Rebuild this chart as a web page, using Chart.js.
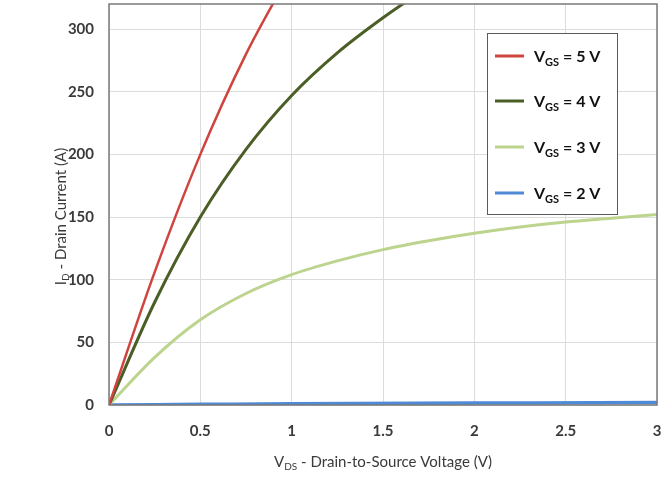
<!DOCTYPE html>
<html>
<head>
<meta charset="utf-8">
<script src="https://cdn.jsdelivr.net/npm/chart.js@4/dist/chart.umd.min.js"></script>
<style>
  html, body { margin: 0; padding: 0; background: #ffffff; }
  #wrap { position: relative; width: 671px; height: 486px; }
</style>
</head>
<body>
<div id="wrap"><canvas id="id-vds-chart" width="671" height="486"></canvas></div>
<script>
// Output characteristics
const legendLabels = ['5 V', '4 V', '3 V', '2 V'];
const seriesColors = ['#d0443f', '#4a5e26', '#bcd48e', '#4f8ad6'];

const vgs5Vds = [0, 0.25, 0.5, 0.75, 1];
const vgs5Id  = [0, 106, 200, 280, 347];

const vgs4Vds = [0, 0.25, 0.5, 0.75, 1, 1.25, 1.5, 1.75];
const vgs4Id  = [0, 82, 150, 204, 247, 281, 309, 334];

const vgs3Vds = [0, 0.25, 0.5, 0.75, 1, 1.25, 1.5, 1.75, 2, 2.25, 2.5, 2.75, 3];
const vgs3Id  = [0, 38, 68, 89, 104, 115, 124, 131, 137, 142, 146, 149, 152];

const vgs2Vds = [0, 0.5, 1, 2, 3];
const vgs2Id  = [0, 0.5, 1, 1.5, 2];

const xTicks = [0, 0.5, 1, 1.5, 2, 2.5, 3];
const yTicks = [0, 50, 100, 150, 200, 250, 300];

const FONT = 'Lato, "Open Sans", sans-serif';
const TEXT = '#3a3a3a';

function toPoints(xs, ys) {
    return xs.map((x, i) => ({ x: x, y: ys[i] }));
}

// Draw a run of text pieces, some of them subscripts
function drawRich(ctx, parts, x, y, size, weight, align) {
    const subSize = Math.round(size * 0.66);
    let total = 0;
    parts.forEach(p => {
        ctx.font = weight + ' ' + (p.sub ? subSize : size) + 'px ' + FONT;
        total += ctx.measureText(p.t).width;
    });
    let cx = align === 'center' ? x - total / 2 : x;
    ctx.textAlign = 'left';
    ctx.textBaseline = 'alphabetic';
    parts.forEach(p => {
        ctx.font = weight + ' ' + (p.sub ? subSize : size) + 'px ' + FONT;
        ctx.fillText(p.t, cx, p.sub ? y + size * 0.22 : y);
        cx += ctx.measureText(p.t).width;
    });
}

// Keep the plot area where the reference has it
function noLabelPadding(axis) {
    axis.paddingLeft = 0;
    axis.paddingRight = 0;
    axis.paddingTop = 0;
    axis.paddingBottom = 0;
}

const decorPlugin = {
    id: 'decor',
    afterDraw(chart) {
        const ctx = chart.ctx;
        const a = chart.chartArea;
        ctx.save();

        // plot frame
        ctx.strokeStyle = '#7a7a7a';
        ctx.lineWidth = 1.5;
        ctx.strokeRect(a.left, a.top, a.right - a.left, a.bottom - a.top);

        // axis titles
        ctx.fillStyle = TEXT;
        drawRich(ctx, [{ t: 'V' }, { t: 'DS', sub: true }, { t: ' - Drain-to-Source Voltage (V)' }],
            (a.left + a.right) / 2, 467, 15, 'normal', 'center');

        ctx.save();
        ctx.translate(66, (a.top + a.bottom) / 2 + 12);
        ctx.rotate(-Math.PI / 2);
        drawRich(ctx, [{ t: 'I' }, { t: 'D', sub: true }, { t: ' - Drain Current (A)' }],
            0, 0, 15, 'normal', 'center');
        ctx.restore();

        // legend box
        const bx = 487, by = 33, bw = 130, bh = 181;
        ctx.fillStyle = '#ffffff';
        ctx.fillRect(bx, by, bw, bh);
        ctx.strokeStyle = '#5a5a5a';
        ctx.lineWidth = 1;
        ctx.strokeRect(bx + 0.5, by + 0.5, bw, bh);

        const rowY = [56, 101, 147, 193];
        legendLabels.forEach((lab, i) => {
            ctx.strokeStyle = seriesColors[i];
            ctx.lineWidth = 3;
            ctx.beginPath();
            ctx.moveTo(495, rowY[i]);
            ctx.lineTo(524, rowY[i]);
            ctx.stroke();
            ctx.fillStyle = '#111111';
            drawRich(ctx, [{ t: 'V' }, { t: 'GS', sub: true }, { t: ' = ' + lab }],
                534, rowY[i] + 6, 16, 'bold', 'left');
        });
        ctx.restore();
    }
};

new Chart(document.getElementById('id-vds-chart').getContext('2d'), {
    type: 'scatter',
    data: {
        datasets: [
            { label: 'VGS = 5 V', data: toPoints(vgs5Vds, vgs5Id), borderColor: seriesColors[0], borderWidth: 2.5 },
            { label: 'VGS = 4 V', data: toPoints(vgs4Vds, vgs4Id), borderColor: seriesColors[1], borderWidth: 3 },
            { label: 'VGS = 3 V', data: toPoints(vgs3Vds, vgs3Id), borderColor: seriesColors[2], borderWidth: 3 },
            { label: 'VGS = 2 V', data: toPoints(vgs2Vds, vgs2Id), borderColor: seriesColors[3], borderWidth: 3.5 }
        ].map(ds => Object.assign(ds, {
            showLine: true,
            pointRadius: 0,
            fill: false,
            cubicInterpolationMode: 'monotone'
        }))
    },
    options: {
        responsive: false,
        animation: false,
        layout: { padding: { left: 0, right: 14, top: 4, bottom: 0 } },
        plugins: {
            legend: { display: false },
            tooltip: { enabled: false }
        },
        scales: {
            x: {
                type: 'linear',
                min: 0,
                max: 3,
                afterBuildTicks: axis => { axis.ticks = xTicks.map(v => ({ value: v })); },
                afterFit: axis => { axis.height = 81; noLabelPadding(axis); },
                grid: { color: '#dcdcdc', drawTicks: false },
                border: { display: false },
                ticks: {
                    padding: 17,
                    color: TEXT,
                    font: { family: FONT, size: 15, weight: 'bold' },
                    maxRotation: 0,
                    callback: v => String(v)
                }
            },
            y: {
                type: 'linear',
                min: 0,
                max: 320,
                afterBuildTicks: axis => { axis.ticks = yTicks.map(v => ({ value: v })); },
                afterFit: axis => { axis.width = 109; noLabelPadding(axis); },
                grid: { color: '#dcdcdc', drawTicks: false },
                border: { display: false },
                ticks: {
                    padding: 15,
                    color: TEXT,
                    font: { family: FONT, size: 15, weight: 'bold' },
                    callback: v => String(v)
                }
            }
        }
    },
    plugins: [decorPlugin]
});
</script>
</body>
</html>
